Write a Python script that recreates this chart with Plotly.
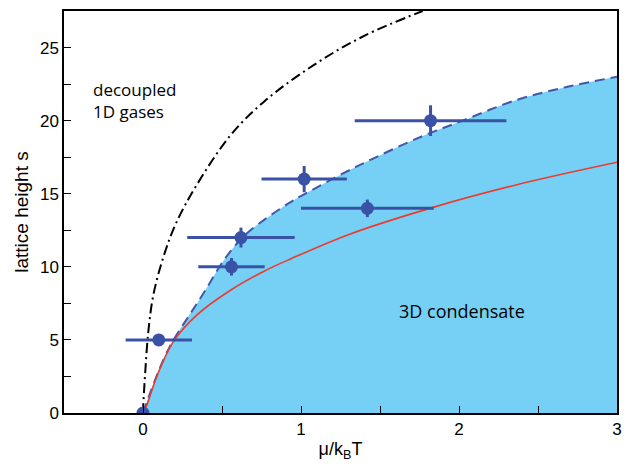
import plotly.graph_objects as go

# Phase boundary (dashed, fill below) mu/kT vs s
bnd_mu = [0, 0.046, 0.13, 0.193, 0.30, 0.395, 0.49, 0.575, 0.68, 0.915, 1.02, 1.36, 1.76, 2.0, 2.36, 2.68, 3.0]
bnd_s = [0, 1.4, 3.66, 5.0, 6.8, 8.4, 10.1, 11.35, 12.5, 14.3, 14.96, 16.9, 18.9, 19.9, 21.4, 22.3, 23.0]

# Red theory line
red_mu = [0, 0.023, 0.087, 0.193, 0.34, 0.554, 0.766, 0.936, 1.30, 1.83, 2.36, 3.0]
red_s = [0, 0.5, 2.5, 4.9, 6.7, 8.4, 9.7, 10.55, 12.2, 14.05, 15.6, 17.15]

# Black dash-dot line
bk_mu = [0, 0.002, 0.013, 0.034, 0.066, 0.13, 0.21, 0.34, 0.554, 0.766, 1.08, 1.40, 1.77]
bk_s = [0, 0.6, 2.6, 5.6, 8.1, 10.7, 13.0, 15.6, 19.0, 21.3, 23.8, 25.8, 27.5]

# Measured points
pt_mu = [0, 0.1, 0.56, 0.62, 1.02, 1.42, 1.82]
pt_s = [0, 5, 10, 12, 16, 14, 20]
pt_xerr = [0, 0.21, 0.21, 0.34, 0.27, 0.42, 0.48]
pt_yerr = [0, 0, 0.6, 0.68, 0.9, 0.6, 1.05]

x_ticks = [0, 1, 2, 3]
y_ticks = [0, 5, 10, 15, 20, 25]

blue = "#3a52a5"
fig = go.Figure()
fig.add_trace(go.Scatter(x=bnd_mu, y=bnd_s, mode="lines", fill="tozeroy",
                         fillcolor="#76d0f5", line=dict(width=0, shape="spline"),
                         hoverinfo="skip", showlegend=False))
fig.add_trace(go.Scatter(x=bnd_mu, y=bnd_s, mode="lines",
                         line=dict(color="#4357a8", width=2, dash="10px,6px", shape="spline"),
                         showlegend=False))
fig.add_trace(go.Scatter(x=red_mu, y=red_s, mode="lines",
                         line=dict(color="#ec3a2c", width=1.6, shape="spline"),
                         showlegend=False))
fig.add_trace(go.Scatter(x=bk_mu, y=bk_s, mode="lines",
                         line=dict(color="black", width=2, dash="10px,4px,2px,4px", shape="spline"),
                         showlegend=False))
fig.add_trace(go.Scatter(x=pt_mu, y=pt_s, mode="markers",
                         marker=dict(color=blue, size=13),
                         error_x=dict(type="data", array=pt_xerr, color=blue, thickness=3, width=0),
                         error_y=dict(type="data", array=pt_yerr, color=blue, thickness=3, width=0),
                         showlegend=False))

fig.add_annotation(x=-0.33, y=21.4, text="decoupled<br>1D gases", showarrow=False,
                   xanchor="left", yanchor="middle", align="left",
                   font=dict(family="Open Sans", size=17, color="black"))
fig.add_annotation(x=1.61, y=7.0, text="3D condensate", showarrow=False,
                   xanchor="left", yanchor="middle",
                   font=dict(family="Open Sans", size=18, color="black"))

axis_common = dict(showline=True, linecolor="black", linewidth=1.5, mirror=True,
                   ticks="inside", ticklen=7, tickwidth=1, tickcolor="black",
                   showgrid=False, zeroline=False,
                   tickfont=dict(family="Liberation Sans", size=17, color="black"))
fig.update_xaxes(range=[-0.5, 3], tickvals=x_ticks, ticktext=[str(v) for v in x_ticks],
                 minor=dict(dtick=0.5, ticks="inside", ticklen=7, tickcolor="black", tick0=0),
                 title=dict(text="μ/k<sub>B</sub>T", font=dict(family="Liberation Sans", size=18, color="black"), standoff=4),
                 **axis_common)
fig.update_yaxes(range=[0, 27.5], tickvals=y_ticks, ticktext=[str(v) for v in y_ticks],
                 minor=dict(dtick=2.5, ticks="inside", ticklen=7, tickcolor="black", tick0=0),
                 title=dict(text="lattice height s", font=dict(family="Liberation Sans", size=19, color="black"), standoff=6),
                 **axis_common)
fig.update_layout(width=631, height=465, margin=dict(l=64, r=14, t=9, b=51),
                  plot_bgcolor="white", paper_bgcolor="white")
fig.write_html("out.html")
